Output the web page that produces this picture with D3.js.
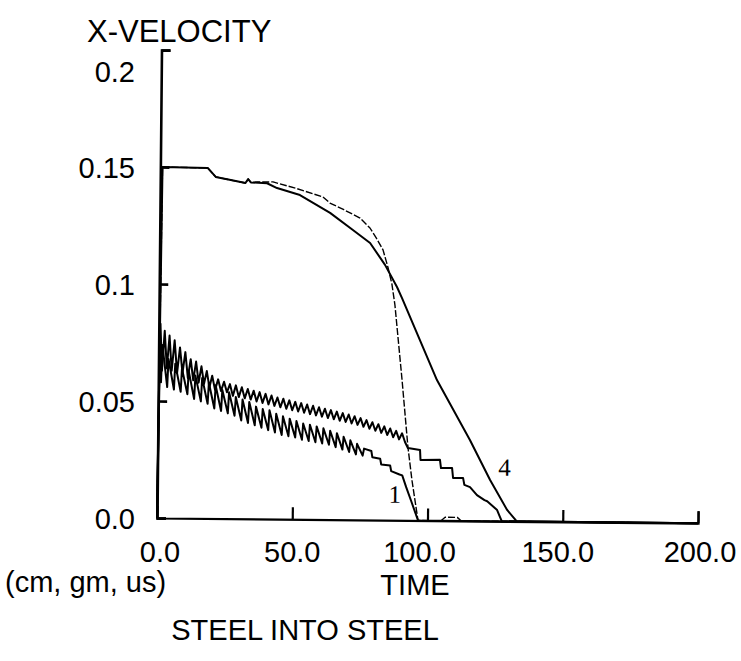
<!DOCTYPE html>
<html><head><meta charset="utf-8">
<script src="https://cdn.jsdelivr.net/npm/d3@7"></script>
<style>body{margin:0;background:#fff}</style>
</head><body><svg id="c" width="741" height="661"></svg>
<script>
const yTicks=[0,0.05,0.1,0.15,0.2];
const yTickLabels=["0.0","0.05","0.1","0.15","0.2"];
const xTicks=[0,50,100,150,200];
const xTickLabels=["0.0","50.0","100.0","150.0","200.0"];

// dashed curve (fast drop near t=96)
const dashedCurve=[[0,0],[0.8,0.15],[17.5,0.1498],[20.5,0.146],[27,0.1445],[31.5,0.1435],[32.5,0.1452],[33.5,0.1438],[36,0.144],[41.7,0.1441],[50,0.1415],[60.2,0.1379],[62.8,0.1353],[68,0.1325],[74,0.129],[77.7,0.1248],[80.1,0.1205],[82.6,0.1155],[84.5,0.108],[86,0.101],[87.2,0.092],[90.1,0.060],[92.5,0.0314],[94.1,0.0173],[96.5,0],[105,0],[106.5,0.0015],[111,0.0015],[112.5,0],[200,0]];

// solid curve labelled 4
const curve4=[[0,0],[0.8,0.15],[17.5,0.1498],[20.5,0.146],[27,0.1445],[31.5,0.1435],[32.5,0.1452],[33.5,0.1438],[39.5,0.1435],[43.2,0.1415],[51.7,0.1386],[62.9,0.1311],[71.4,0.1239],[77.8,0.1184],[83.4,0.1091],[87.9,0.0997],[89.8,0.095],[103,0.0601],[115.4,0.0346],[123,0.0176],[129.4,0.0049],[133,0],[200,0]];

// upper oscillating curve (staircase end near t=127)
const curve2=[[0,0],[0.6,0.083],[1.3,0.063],[2.2,0.080],[3.1,0.064],[4.0,0.078],[4.9,0.063],[5.9,0.076],[6.9,0.062],[7.9,0.073],[8.9,0.062],[9.9,0.071],[10.9,0.060],[11.9,0.068],[12.9,0.059],[13.9,0.067],[14.9,0.058],[15.9,0.065],[16.9,0.0575],[17.9,0.063],[18.9,0.056],[19.9,0.061],[21.0,0.055],[22.1,0.0595],[23.2,0.0545],[24.3,0.0585],[25.4,0.054],[26.5,0.0575],[27.6,0.0525],[28.7,0.057],[29.8,0.052],[30.9,0.0562],[32.0,0.0515],[33.1,0.0555],[34.2,0.051],[35.3,0.0548],[36.4,0.0502],[37.5,0.0542],[38.6,0.0496],[39.7,0.0535],[40.8,0.049],[41.9,0.0528],[43.0,0.0484],[44.1,0.052],[45.2,0.0478],[46.3,0.0515],[47.4,0.0472],[48.5,0.0508],[49.6,0.0466],[50.7,0.0502],[51.8,0.0461],[52.9,0.0497],[54.0,0.0456],[55.1,0.0491],[56.2,0.045],[57.3,0.0486],[58.4,0.0445],[59.5,0.048],[60.6,0.044],[61.7,0.0474],[62.8,0.0434],[63.9,0.0468],[65.0,0.0429],[66.1,0.0462],[67.2,0.0423],[68.3,0.0456],[69.4,0.0418],[70.5,0.045],[71.6,0.0412],[72.7,0.0443],[73.8,0.0406],[74.9,0.0435],[76.0,0.0398],[77.1,0.0427],[78.2,0.039],[79.3,0.0418],[80.4,0.0382],[81.5,0.041],[82.6,0.0373],[83.7,0.0401],[84.8,0.0364],[85.9,0.0392],[87.0,0.0355],[88.1,0.0382],[89.2,0.0346],[90.3,0.0372],[91.4,0.0335],[92.5,0.0309],[97,0.0301],[97.2,0.0259],[104.4,0.026],[104.8,0.0225],[108.9,0.0226],[109.3,0.0183],[113,0.0184],[113.5,0.0154],[115.6,0.0145],[118.2,0.0111],[121,0.009],[122,0.0085],[125.7,0.0048],[126.8,0.0018],[127.5,0],[200,0]];

// lower oscillating curve labelled 1
const curve1=[[0,0],[0.4,0.078],[1.0,0.058],[1.4,0.074],[3.3,0.056],[3.7,0.068],[5.8,0.055],[6.2,0.066],[8.3,0.054],[8.7,0.064],[10.8,0.053],[11.2,0.063],[13.3,0.051],[13.7,0.061],[15.8,0.050],[16.2,0.060],[18.3,0.049],[18.7,0.058],[20.8,0.047],[21.2,0.057],[23.3,0.046],[23.7,0.055],[25.8,0.045],[26.2,0.054],[28.3,0.044],[28.7,0.052],[30.8,0.042],[31.2,0.051],[33.3,0.041],[33.7,0.050],[35.8,0.040],[36.2,0.048],[38.3,0.039],[38.7,0.047],[40.8,0.038],[41.2,0.0465],[43.3,0.037],[43.7,0.045],[45.8,0.036],[46.2,0.044],[48.3,0.0355],[48.7,0.043],[50.8,0.035],[51.2,0.042],[53.3,0.034],[53.7,0.041],[55.8,0.0335],[56.2,0.0405],[58.3,0.033],[58.7,0.0398],[60.8,0.0325],[61.2,0.039],[63.3,0.032],[63.7,0.038],[65.8,0.031],[66.2,0.037],[68.3,0.030],[68.7,0.0355],[70.8,0.029],[71.2,0.034],[73.3,0.028],[73.7,0.0325],[75.8,0.0275],[76.3,0.0305],[79,0.0295],[79.4,0.0268],[82.3,0.0262],[82.7,0.0238],[86,0.0234],[86.4,0.021],[89.5,0.0196],[90.5,0.0192],[92,0.0142],[94,0.008],[96.5,0],[200,0]];

const svg=d3.select("#c");
const x=d3.scaleLinear().domain([0,200]).range([157,698]);
const y=d3.scaleLinear().domain([0,0.2]).range([518,50]);
const FONT="'Liberation Sans', Arial, Helvetica, sans-serif";

const g=svg.append("g").attr("transform","rotate(0.55,157,518)");

// axes
const ya=g.append("g").attr("transform",`translate(${x(0)},0)`)
  .call(d3.axisLeft(y).tickValues(yTicks).tickSize(-9).tickFormat(()=>""));
const xa=g.append("g").attr("transform",`translate(0,${y(0)})`)
  .call(d3.axisBottom(x).tickValues(xTicks.slice(1)).tickSize(-12).tickFormat(()=>""));
ya.selectAll("path,line").attr("stroke","#000").attr("stroke-width",2.6);
xa.selectAll("path,line").attr("stroke","#000").attr("stroke-width",2.2);

const line=d3.line().x(d=>x(d[0])).y(d=>y(d[1]));
const series=[
  {data:curve1,dash:null,w:2},
  {data:curve2,dash:null,w:2},
  {data:curve4,dash:null,w:2},
  {data:dashedCurve,dash:"7,2",w:1.4}
];
g.selectAll("path.s").data(series).join("path").attr("class","s")
  .attr("d",d=>line(d.data)).attr("fill","none").attr("stroke","#000")
  .attr("stroke-width",d=>d.w).attr("stroke-dasharray",d=>d.dash)
  .attr("stroke-linejoin","round");

// curve labels
const SERIF="'Liberation Serif', 'Times New Roman', serif";
g.append("text").attr("x",x(85.5)).attr("y",y(0.0075)).text("1")
  .attr("font-family",SERIF).attr("font-size",25);
g.append("text").attr("x",x(126)).attr("y",y(0.0195)).text("4")
  .attr("font-family",SERIF).attr("font-size",25);

// tick labels
svg.selectAll("text.yl").data(yTicks).join("text").attr("class","yl")
  .attr("x",135).attr("y",d=>d===0.2?82:y(d)+11).attr("text-anchor","end")
  .attr("font-family",FONT).attr("font-size",29).text((d,i)=>yTickLabels[i]);
const xlOff=[3,0,-8,-5,2];
svg.selectAll("text.xl").data(xTicks).join("text").attr("class","xl")
  .attr("x",(d,i)=>x(d)+xlOff[i]).attr("y",562).attr("text-anchor","middle")
  .attr("font-family",FONT).attr("font-size",29).text((d,i)=>xTickLabels[i]);

svg.append("text").attr("x",87).attr("y",42).attr("font-family",FONT).attr("font-size",31).text("X-VELOCITY");
svg.append("text").attr("x",5).attr("y",592).attr("font-family",FONT).attr("font-size",29).text("(cm, gm, us)");
svg.append("text").attr("x",415).attr("y",595).attr("text-anchor","middle").attr("font-family",FONT).attr("font-size",29).text("TIME");
svg.append("text").attr("x",305).attr("y",640).attr("text-anchor","middle").attr("font-family",FONT).attr("font-size",29).text("STEEL INTO STEEL");
</script></body></html>
